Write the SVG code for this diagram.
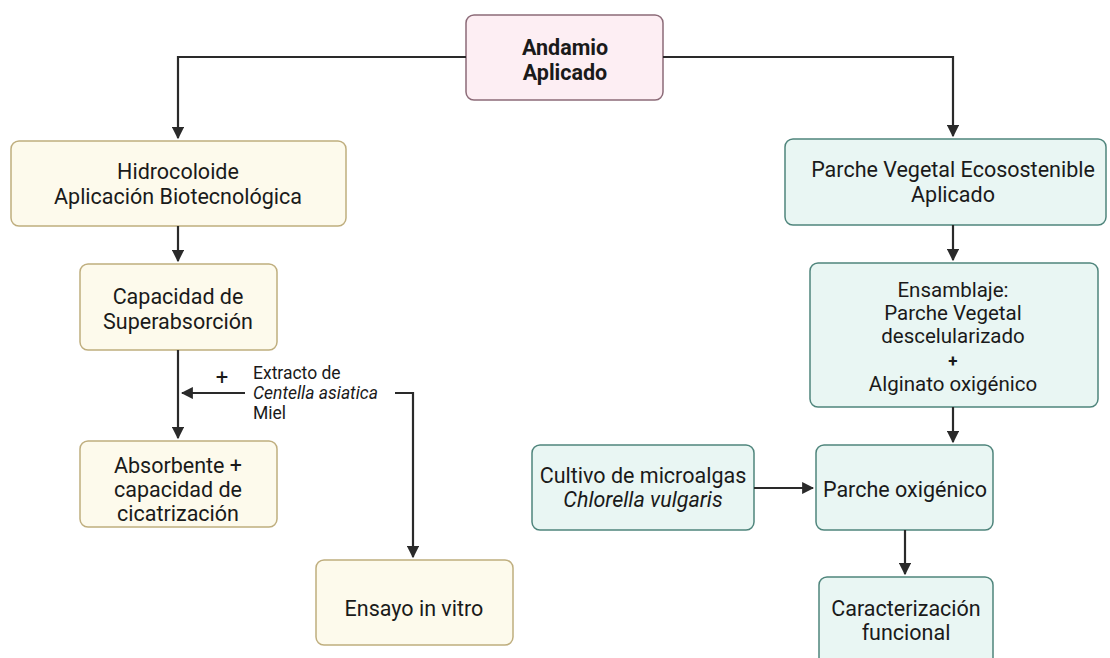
<svg xmlns="http://www.w3.org/2000/svg" width="1110" height="658" viewBox="0 0 1110 658">
<defs>
<style>
.t{font-family:Roboto,"Liberation Sans",sans-serif;font-size:21.5px;fill:#1a1a1a;text-anchor:middle}
.e{font-size:20.5px}
.s{font-family:Roboto,"Liberation Sans",sans-serif;font-size:17.5px;fill:#1a1a1a}
.b{font-weight:bold}
.pink{fill:#fdeef3;stroke:#8c6b78;stroke-width:1.5}
.cream{fill:#fdfaec;stroke:#bfae7e;stroke-width:1.5}
.teal{fill:#e9f6f3;stroke:#4f857c;stroke-width:1.5}
.c{fill:none;stroke:#2a2a2a;stroke-width:2.2}
</style>
<marker id="ah" viewBox="0 0 10 10" refX="9" refY="5" markerWidth="5.5" markerHeight="5.5" orient="auto" markerUnits="strokeWidth">
<path d="M0,0 L10,5 L0,10 z" fill="#2a2a2a"/>
</marker>
</defs>
<rect width="1110" height="658" fill="#ffffff"/>
<g id="andamio">
<rect class="pink" x="466" y="15" width="197" height="85" rx="8"/>
<text class="t b" x="565" y="55">Andamio</text>
<text class="t b" x="565" y="80">Aplicado</text>
</g>
<g id="hidrocoloide">
<rect class="cream" x="11" y="141" width="335" height="85" rx="8"/>
<text class="t" x="178" y="179">Hidrocoloide</text>
<text class="t" x="178" y="204">Aplicación Biotecnológica</text>
</g>
<g id="capacidad">
<rect class="cream" x="80" y="264" width="197" height="86" rx="8"/>
<text class="t" x="178" y="304">Capacidad de</text>
<text class="t" x="178" y="329">Superabsorción</text>
</g>
<g id="absorbente">
<rect class="cream" x="80" y="441" width="197" height="86" rx="8"/>
<text class="t" x="178" y="473">Absorbente +</text>
<text class="t" x="178" y="497">capacidad de</text>
<text class="t" x="178" y="521">cicatrización</text>
</g>
<g id="ensayo">
<rect class="cream" x="316" y="560" width="197" height="85" rx="8"/>
<text class="t" x="414" y="616">Ensayo in vitro</text>
</g>
<g id="parche-vegetal">
<rect class="teal" x="785" y="139" width="321" height="86" rx="8"/>
<text class="t" x="953" y="177">Parche Vegetal Ecosostenible</text>
<text class="t" x="953" y="202">Aplicado</text>
</g>
<g id="ensamblaje">
<rect class="teal" x="810" y="263" width="288" height="144" rx="8"/>
<text class="t e" x="953" y="297">Ensamblaje:</text>
<text class="t e" x="953" y="320">Parche Vegetal</text>
<text class="t e" x="953" y="343">descelularizado</text>
<text class="t b" x="953" y="367" style="font-size:17px">+</text>
<text class="t e" x="953" y="391">Alginato oxigénico</text>
</g>
<g id="cultivo">
<rect class="teal" x="532" y="445" width="222" height="85" rx="8"/>
<text class="t" x="643" y="483">Cultivo de microalgas</text>
<text class="t" x="643" y="507" font-style="italic">Chlorella vulgaris</text>
</g>
<g id="parche-oxigenico">
<rect class="teal" x="816" y="445" width="177" height="85" rx="8"/>
<text class="t" x="905" y="497">Parche oxigénico</text>
</g>
<g id="caracterizacion">
<rect class="teal" x="819" y="577" width="174" height="95" rx="8"/>
<text class="t" x="906" y="616">Caracterización</text>
<text class="t" x="906" y="640">funcional</text>
</g>
<g id="connectors">
<path class="c" d="M466,57 H178 V138" marker-end="url(#ah)"/>
<path class="c" d="M663,57 H953 V136" marker-end="url(#ah)"/>
<path class="c" d="M178,226 V261" marker-end="url(#ah)"/>
<path class="c" d="M178,350 V438" marker-end="url(#ah)"/>
<path class="c" d="M245,393 H182" marker-end="url(#ah)"/>
<path class="c" d="M395,393 H413 V557" marker-end="url(#ah)"/>
<path class="c" d="M953,225 V260" marker-end="url(#ah)"/>
<path class="c" d="M953,407 V442" marker-end="url(#ah)"/>
<path class="c" d="M754,488 H813" marker-end="url(#ah)"/>
<path class="c" d="M905,530 V574" marker-end="url(#ah)"/>
<text class="s" x="222" y="385" text-anchor="middle" style="font-size:22px">+</text>
<text class="s" x="253" y="379">Extracto de</text>
<text class="s" x="253" y="399" font-style="italic">Centella asiatica</text>
<text class="s" x="253" y="419">Miel</text>
</g>
</svg>
